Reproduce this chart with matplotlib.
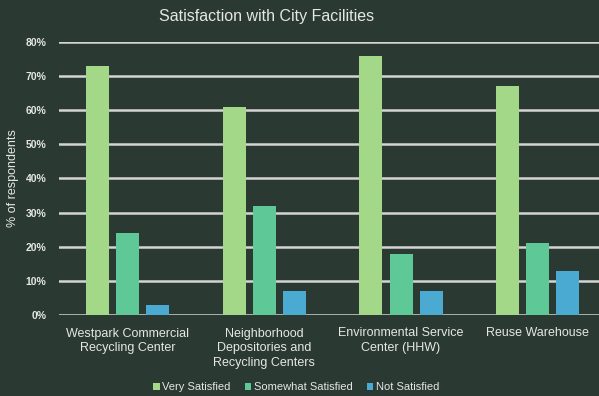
import matplotlib.pyplot as plt
import numpy as np

plt.rcParams['font.family'] = ['Liberation Sans', 'DejaVu Sans']

# survey results per facility
facilities = ['Westpark Commercial\nRecycling Center',
              'Neighborhood\nDepositories and\nRecycling Centers',
              'Environmental Service\nCenter (HHW)',
              'Reuse Warehouse']
very_satisfied = [73, 61, 76, 67]
somewhat_satisfied = [24, 32, 18, 21]
not_satisfied = [3, 7, 7, 13]

bg = '#2a3a33'
fg = '#e6e6e6'
colors = ['#a3d888', '#5ec896', '#4aaad2']

fig = plt.figure(figsize=(5.99, 3.96), dpi=100, facecolor=bg)
ax = fig.add_axes([59/599, 1 - 315/396, 540/599, 273/396], facecolor=bg)

x = np.arange(len(facilities))
w = 0.168
step = 0.22
series = [('Very Satisfied', very_satisfied),
          ('Somewhat Satisfied', somewhat_satisfied),
          ('Not Satisfied', not_satisfied)]
for i, (name, vals) in enumerate(series):
    ax.bar(x + (i - 1) * step, np.array(vals) / 100, w, color=colors[i],
           label=name, zorder=3)

ax.set_ylim(0, 0.8)
ax.set_xlim(-0.5, 3.447)
yt = np.arange(0, 0.81, 0.1)
ax.set_yticks(yt)
ax.set_yticklabels([f'{int(round(v*100))}%' for v in yt],
                   fontsize=7.5, color=fg, fontweight='bold')
ax.grid(axis='y', color='#d4d4d4', linewidth=1.8, zorder=0)
ax.set_axisbelow(True)
ax.set_xticks(x)
ax.set_xticklabels(facilities, fontsize=9, color=fg, linespacing=1.3)
ax.tick_params(length=0)
ax.tick_params(axis='x', pad=9)
ax.tick_params(axis='y', pad=9)
for s in ax.spines.values():
    s.set_visible(False)

ax.set_ylabel('% of respondents', fontsize=9, color=fg, labelpad=5)
fig.text(267/599, 1 - 17/396, 'Satisfaction with City Facilities',
         fontsize=11.5, color=fg, ha='center', va='center')

fig.legend(loc='center', bbox_to_anchor=(296/599, 1 - 387/396), ncol=3,
           frameon=False, fontsize=8, labelcolor=fg, handlelength=0.6,
           handleheight=0.6, handletextpad=0.2, columnspacing=1.3)

fig.savefig('out.png', dpi=100, facecolor=bg)
